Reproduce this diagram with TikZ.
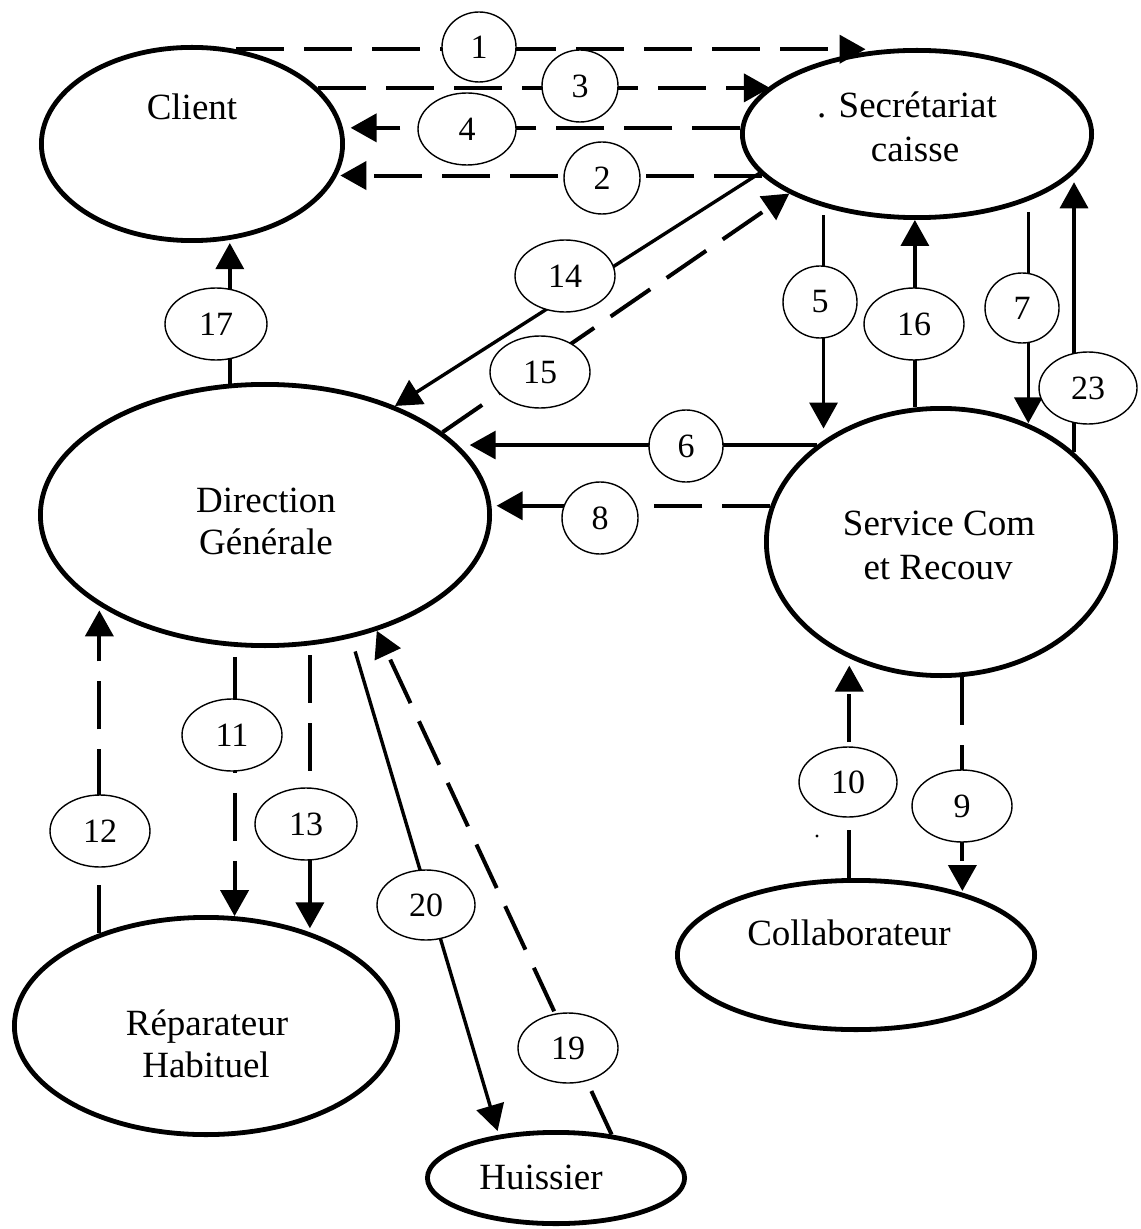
\documentclass[tikz,border=0pt]{standalone}
\usepackage{fontspec}
\setmainfont{Liberation Serif}
\usetikzlibrary{shapes.geometric,arrows.meta}
\begin{document}
\begin{tikzpicture}[x=0.5pt,y=-0.5pt,
  actor/.style={ellipse,draw,line width=2.4pt,inner sep=0pt},
  txt/.style={anchor=base,inner sep=0pt,font=\fontsize{18.5pt}{22pt}\selectfont},
  num/.style={ellipse,draw,line width=0.7pt,fill=white,inner sep=0pt,
    font=\fontsize{17pt}{20pt}\selectfont},
  flow/.style={line width=1.7pt,-{Triangle[length=13pt,width=14pt]}},
  dflow/.style={line width=2pt,dash pattern=on 24pt off 10pt,
    -{Triangle[length=13pt,width=14pt]}},
]
% page
\fill[white] (0,0) rectangle (1140,1229);
\useasboundingbox (0,0) rectangle (1140,1229);

% actors
\node[actor,minimum width=150.6pt,minimum height=96.6pt] (client) at (192,144) {};
\node[actor,minimum width=174.6pt,minimum height=83.6pt] (sec) at (917,134) {};
\node[actor,minimum width=224.6pt,minimum height=130.6pt] (dir) at (265,515) {};
\node[actor,minimum width=174.6pt,minimum height=133.6pt] (svc) at (941,542) {};
\node[actor,minimum width=178.6pt,minimum height=74.6pt] (collab) at (856,955) {};
\node[actor,minimum width=191.6pt,minimum height=108.6pt] (rep) at (206,1026) {};
\node[actor,minimum width=128.6pt,minimum height=45.6pt] (huis) at (556,1178) {};

% actor names
\node[txt] (client-t) at (192,120) {Client};
\node[txt] (sec-t1) at (907,118) {. Secrétariat};
\node[txt] (sec-t2) at (915,162) {caisse};
\node[txt] (dir-t1) at (266,512) {Direction};
\node[txt] (dir-t2) at (266,554) {Générale};
\node[txt] (svc-t1) at (939,535) {Service Com};
\node[txt] (svc-t2) at (938,579) {et Recouv};
\node[txt] (collab-t) at (849,945) {Collaborateur};
\node[txt] (rep-t1) at (207,1035) {Réparateur};
\node[txt] (rep-t2) at (206,1077) {Habituel};
\node[txt] (huis-t) at (541,1189) {Huissier};

% flows between Client and Secretariat
\draw[dflow] (client.65) -- (client.65 -| sec.122);
\draw[dflow] (client.24.5) -- (client.24.5 -| sec.162);
\draw[dflow,shorten >=3.5pt] (sec.178.7) -- (sec.178.7 -| client.5.3);
\draw[dflow,shorten >=1.5pt] (sec.195.2) -- (sec.195.2 -| client.-12.5);

% Secretariat <-> Direction
\draw[flow] (sec.194.2) -- (dir.40.2);
\draw[dflow] (dir.25.5) -- (sec.205.1);

% Secretariat <-> Service
\draw[flow,shorten <=4pt,shorten >=5pt] (sec.-142) -- (sec.-142 |- svc.138.9);
\draw[flow] (svc.101.4) -- (svc.101.4 |- sec.-92);
\draw[flow,shorten <=5.5pt] (sec.-31.5) -- (sec.-31.5 |- svc.54.1);
\draw[flow,shorten >=4.5pt] (svc.34) -- (svc.34 |- sec.-14.2);

% Service -> Direction
\draw[flow,shorten >=4.5pt] (svc.142) -- (svc.142 -| dir.19.9);
\draw[dflow,shorten >=2.5pt] (svc.168.1) -- (svc.168.1 -| dir.2.3);

% Direction -> Client
\draw[flow,shorten >=1.5pt] (dir.105.7) -- (dir.105.7 |- client.-69.5);

% Direction <-> Reparateur
\draw[dflow,shorten >=3pt] (rep.139.9) -- (rep.139.9 |- dir.-152);
\draw[dflow,shorten <=5pt] (dir.-103.7) -- (dir.-103.7 |- rep.76.2);
\draw[dflow,shorten <=5pt,shorten >=2pt] (dir.-71) -- (dir.-71 |- rep.42);

% Direction <-> Huissier
\draw[flow,shorten <=7pt,shorten >=2pt] (dir.-55.7) -- (huis.143.9);
\draw[dflow] (huis.38.4) -- (dir.-46);

% Service <-> Collaborateur
\draw[dflow,shorten >=3.5pt] (collab.95.9) -- (collab.95.9 |- svc.-128.8);
\draw[dflow,shorten >=1pt] (svc.-81.2) -- (svc.-81.2 |- collab.30.5);

% flow numbers
\node[num,minimum width=37pt,minimum height=35pt] (l1) at (479,47) {1};
\node[num,minimum width=38pt,minimum height=36pt] (l3) at (580,86) {3};
\node[num,minimum width=49pt,minimum height=36pt] (l4) at (467,129) {4};
\node[num,minimum width=38pt,minimum height=36pt] (l2) at (602,178) {2};
\node[num,minimum width=50pt,minimum height=36pt] (l14) at (565,276) {14};
\node[num,minimum width=50pt,minimum height=36pt] (l15) at (540,372) {15};
\node[num,minimum width=51pt,minimum height=36pt] (l17) at (216,324) {17};
\node[num,minimum width=37pt,minimum height=36pt] (l5) at (820,302) {5};
\node[num,minimum width=50pt,minimum height=36pt] (l16) at (914,324) {16};
\node[num,minimum width=37pt,minimum height=35pt] (l7) at (1022,308) {7};
\node[num,minimum width=49pt,minimum height=36pt] (l23) at (1088,388) {23};
\node[num,minimum width=37pt,minimum height=36pt] (l6) at (686,446) {6};
\node[num,minimum width=38pt,minimum height=36pt] (l8) at (600,518) {8};
\node[num,minimum width=50pt,minimum height=36pt] (l11) at (232,735) {11};
\node[num,minimum width=50pt,minimum height=36pt] (l12) at (100,831) {12};
\node[num,minimum width=51pt,minimum height=36pt] (l13) at (306,824) {13};
\node[num,minimum width=49pt,minimum height=35pt] (l20) at (426,905) {20};
\node[num,minimum width=50pt,minimum height=35pt] (l19) at (568,1048) {19};
\node[num,minimum width=49pt,minimum height=35pt] (l10) at (848,782) {10};
\node[num,minimum width=50pt,minimum height=36pt] (l9) at (962,806) {9};

% small speck beside flow 10
\fill (817,836) circle (0.8pt);
\end{tikzpicture}
\end{document}
